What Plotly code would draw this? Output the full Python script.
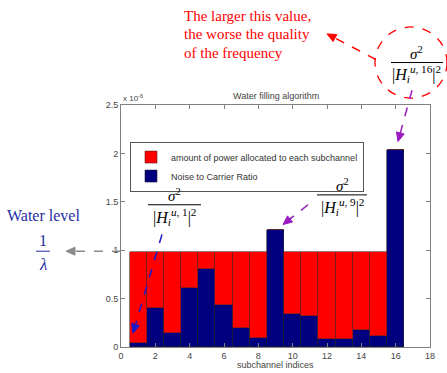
import plotly.graph_objects as go

# ---- data (values in units of 1e-6) ----
subchannels = list(range(1, 17))
noise_to_carrier = [0.041, 0.40, 0.148, 0.605, 0.81, 0.43, 0.20, 0.093,
                    1.21, 0.344, 0.323, 0.078, 0.085, 0.177, 0.116, 2.04]
power_allocated = [0.944, 0.585, 0.837, 0.38, 0.175, 0.555, 0.785, 0.892,
                   0.0, 0.641, 0.662, 0.907, 0.90, 0.808, 0.869, 0.0]
x_ticks = [0, 2, 4, 6, 8, 10, 12, 14, 16, 18]
y_ticks = [0, 0.5, 1, 1.5, 2, 2.5]
y_tick_labels = ["0", "0.5", "1", "1.5", "2", "2.5"]

W, H = 447, 373
L, R, T, B = 121, 430, 105, 350


def px(x):
    return (x - L) / (R - L)


def py(y):
    return (B - y) / (B - T)


fig = go.Figure()
fig.add_trace(go.Bar(x=subchannels, y=noise_to_carrier, width=1,
                     name="Noise to Carrier Ratio",
                     marker=dict(color="#00007F", line=dict(color="#202030", width=0.6))))
fig.add_trace(go.Bar(x=subchannels, y=power_allocated, width=1,
                     name="amount of power allocated to each subchannel",
                     marker=dict(color="#FF0000", line=dict(color="#602020", width=0.6))))

axis_common = dict(showline=True, linecolor="#7f7f7f", linewidth=1, mirror="ticks",
                   ticks="inside", ticklen=4, tickcolor="#7f7f7f", showgrid=False,
                   zeroline=False, tickfont=dict(family="Liberation Sans, Arial", size=9, color="#444"))

fig.update_layout(
    width=W, height=H, barmode="stack", bargap=0,
    margin=dict(l=L, r=W - R, t=T, b=H - B),
    paper_bgcolor="white", plot_bgcolor="white",
    showlegend=True,
    legend=dict(x=px(130), y=py(142), xanchor="left", yanchor="top",
                traceorder="reversed", bgcolor="white", bordercolor="#555",
                borderwidth=1, font=dict(family="Liberation Sans, Arial", size=9, color="#333"),
                itemwidth=30, tracegroupgap=0),
    xaxis=dict(range=[0, 18], tickvals=x_ticks, **axis_common),
    yaxis=dict(range=[0, 2.5], tickvals=y_ticks, ticktext=y_tick_labels, **axis_common),
)

annots = []
shapes = []

small = dict(family="Liberation Sans, Arial", size=9, color="#444")
annots.append(dict(text="Water filling algorithm", x=0.5, y=py(96), xref="paper", yref="paper",
                   showarrow=False, font=small, xanchor="center", yanchor="middle"))
annots.append(dict(text="x 10<sup>-6</sup>", x=px(121), y=py(98), xref="paper", yref="paper",
                   showarrow=False, font=dict(family="Liberation Sans, Arial", size=8, color="#444"),
                   xanchor="left", yanchor="middle"))
annots.append(dict(text="subchannel indices", x=0.5, y=py(368), xref="paper", yref="paper",
                   showarrow=False, font=small, xanchor="center", yanchor="middle"))

serif = "Liberation Serif, Times New Roman"
red_lines = ["The larger this value,", "the worse the quality", "of the frequency"]
for i, t in enumerate(red_lines):
    annots.append(dict(text=t, x=px(182), y=py(15 + 18.5 * i), xref="paper", yref="paper",
                       showarrow=False, font=dict(family=serif, size=15, color="#FF0000"),
                       xanchor="left", yanchor="middle"))

blue_txt = "#1F2F9F"
annots.append(dict(text="Water level", x=px(43), y=py(217), xref="paper", yref="paper",
                   showarrow=False, font=dict(family=serif, size=16, color=blue_txt),
                   xanchor="center", yanchor="middle"))
annots.append(dict(text="1", x=px(43), y=py(242), xref="paper", yref="paper",
                   showarrow=False, font=dict(family=serif, size=16, color=blue_txt),
                   xanchor="center", yanchor="middle"))
annots.append(dict(text="<i>λ</i>", x=px(43), y=py(266), xref="paper", yref="paper",
                   showarrow=False, font=dict(family=serif, size=17, color=blue_txt),
                   xanchor="center", yanchor="middle"))
shapes.append(dict(type="line", xref="paper", yref="paper", x0=px(36), x1=px(50),
                   y0=py(253), y1=py(253), line=dict(color=blue_txt, width=1)))


def fraction(cx, ytop, yline, ybot, x0, x1, label):
    annots.append(dict(text="<i>σ</i><sup>2</sup>", x=px(cx), y=py(ytop), xref="paper", yref="paper",
                       showarrow=False, font=dict(family=serif, size=15, color="black"),
                       xanchor="center", yanchor="middle"))
    annots.append(dict(text="|<i>H</i><sub><i>i</i></sub><sup><i>u</i>, " + label + "</sup>|<sup>2</sup>",
                       x=px(cx), y=py(ybot), xref="paper", yref="paper",
                       showarrow=False, font=dict(family=serif, size=16, color="black"),
                       xanchor="center", yanchor="middle"))
    shapes.append(dict(type="line", xref="paper", yref="paper", x0=px(x0), x1=px(x1),
                       y0=py(yline), y1=py(yline), line=dict(color="black", width=1)))


fraction(174, 196, 206, 218, 148, 201, "1")
fraction(342, 186, 196, 208, 317, 367, "9")
fraction(416, 52, 62, 74, 391, 443, "16")

shapes.append(dict(type="circle", xref="paper", yref="paper", x0=px(375), x1=px(447),
                   y0=py(98), y1=py(26), line=dict(color="#FF0000", width=1.3, dash="dash")))


def dashed_arrow(x0, y0, x1, y1, color):
    dx, dy = x1 - x0, y1 - y0
    n = (dx * dx + dy * dy) ** 0.5
    ux, uy = dx / n, dy / n
    hl, hw = 9.0, 4.0
    bx, by = x1 - ux * hl, y1 - uy * hl
    shapes.append(dict(type="line", xref="paper", yref="paper", x0=px(x0), y0=py(y0),
                       x1=px(bx + ux * 2), y1=py(by + uy * 2),
                       line=dict(color=color, width=1.5, dash="dash")))
    lx, ly = bx - uy * hw, by + ux * hw
    rx, ry = bx + uy * hw, by - ux * hw
    path = "M {:.4f} {:.4f} L {:.4f} {:.4f} L {:.4f} {:.4f} Z".format(
        px(x1), py(y1), px(lx), py(ly), px(rx), py(ry))
    shapes.append(dict(type="path", xref="paper", yref="paper", path=path,
                       fillcolor=color, line=dict(color=color, width=1)))


dashed_arrow(121, 253, 66, 253, "#8a8a8a")
dashed_arrow(162, 236, 133, 336, "#1a1acc")
dashed_arrow(308, 206, 283, 226, "#9a1ac0")
dashed_arrow(412, 90, 398, 142, "#9a1ac0")
dashed_arrow(376, 59, 327, 33, "#FF0000")

fig.update_layout(annotations=annots, shapes=shapes)
fig.write_html("out.html")
